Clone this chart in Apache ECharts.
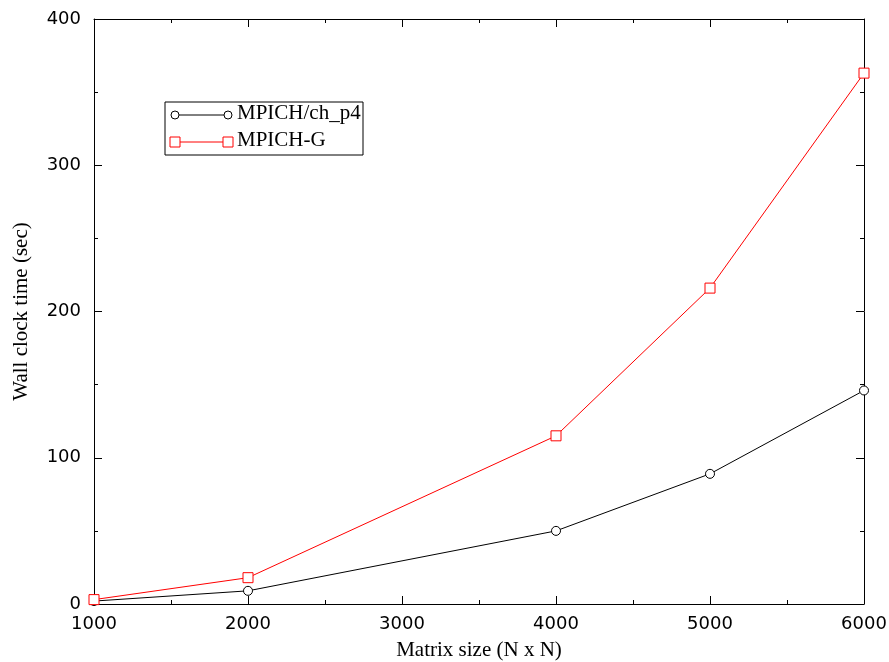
<!DOCTYPE html>
<html>
<head>
<meta charset="utf-8">
<script src="https://cdn.jsdelivr.net/npm/echarts@6/dist/echarts.min.js"></script>
<style>
  html, body { margin: 0; padding: 0; background: #fff; }
  #chart { width: 889px; height: 662px; }
</style>
</head>
<body>
<div id="chart"></div>
<script>
const matrixSizes = [1000, 2000, 4000, 5000, 6000];
const chP4Times = [2, 9, 50, 89, 146];
const globusTimes = [3, 18, 115, 216, 363];
const seriesNames = ['MPICH/ch_p4', 'MPICH-G'];

const myChart = echarts.init(document.getElementById('chart'));

const tickFont = { fontFamily: 'DejaVu Sans', fontSize: 18, color: '#000', formatter: v => String(v) };
const nameFont = { fontFamily: 'Liberation Serif', fontSize: 21, color: '#000' };

function boxAxis(extra) {
  return Object.assign({
    type: 'value',
    axisLine: { show: true, onZero: false, lineStyle: { color: '#000', width: 1 } },
    axisTick: { show: true, inside: true, length: 8, lineStyle: { color: '#000' } },
    minorTick: { show: true, splitNumber: 2, length: 4, lineStyle: { color: '#000' } },
    splitLine: { show: false }
  }, extra);
}

function legendEntry(y, name, color, symbol) {
  const items = [
    { type: 'line', shape: { x1: 175, y1: y, x2: 228, y2: y }, style: { stroke: color, lineWidth: 1 } }
  ];
  [175, 228].forEach(function (cx) {
    if (symbol === 'circle') {
      items.push({ type: 'circle', shape: { cx: cx, cy: y, r: 4 }, style: { fill: '#fff', stroke: color, lineWidth: 1 } });
    } else {
      items.push({ type: 'rect', shape: { x: cx - 5, y: y - 5, width: 10, height: 10 }, style: { fill: '#fff', stroke: color, lineWidth: 1 } });
    }
  });
  items.push({
    type: 'text', left: 237, top: y - 12,
    style: { text: name, fill: '#000', font: '21px "Liberation Serif"' }
  });
  return items;
}

const option = {
  animation: false,
  backgroundColor: '#fff',
  grid: { left: 94, right: 25, top: 19, bottom: 58, containLabel: false, outerBoundsMode: 'none' },
  xAxis: [
    boxAxis({
      min: 1000, max: 6000, interval: 1000, position: 'bottom',
      name: 'Matrix size (N x N)', nameLocation: 'middle', nameGap: 36, nameTextStyle: nameFont,
      axisLabel: Object.assign({ margin: 11 }, tickFont)
    }),
    boxAxis({
      min: 1000, max: 6000, interval: 1000, position: 'top',
      axisLabel: { show: false }
    })
  ],
  yAxis: [
    boxAxis({
      min: 0, max: 400, interval: 100, position: 'left',
      name: 'Wall clock time (sec)', nameLocation: 'middle', nameGap: 62, nameTextStyle: nameFont,
      axisLabel: Object.assign({ margin: 13 }, tickFont)
    }),
    boxAxis({
      min: 0, max: 400, interval: 100, position: 'right',
      axisLabel: { show: false }
    })
  ],
  graphic: [
    { type: 'rect', shape: { x: 165, y: 102, width: 198, height: 53 }, style: { fill: '#fff', stroke: '#000', lineWidth: 1 } }
  ].concat(legendEntry(115, seriesNames[0], '#000', 'circle'))
   .concat(legendEntry(142, seriesNames[1], '#ff0000', 'rect')),
  series: [
    {
      name: seriesNames[0], type: 'line',
      data: matrixSizes.map((x, i) => [x, chP4Times[i]]),
      symbol: 'circle', symbolSize: 9,
      lineStyle: { color: '#000', width: 1 },
      itemStyle: { color: '#fff', borderColor: '#000', borderWidth: 1 }
    },
    {
      name: seriesNames[1], type: 'line',
      data: matrixSizes.map((x, i) => [x, globusTimes[i]]),
      symbol: 'rect', symbolSize: 10,
      lineStyle: { color: '#ff0000', width: 1 },
      itemStyle: { color: '#fff', borderColor: '#ff0000', borderWidth: 1 }
    }
  ]
};

myChart.setOption(option);
</script>
</body>
</html>
